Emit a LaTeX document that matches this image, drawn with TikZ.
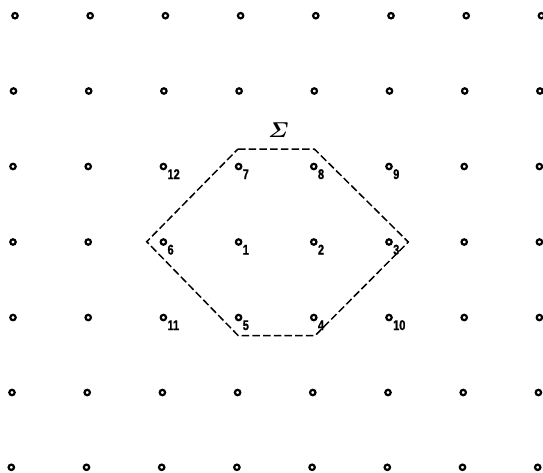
\documentclass[tikz,border=0pt]{standalone}
\usepackage{amsmath}
\usepackage{graphicx}
\usepackage{fontspec}
\newfontfamily\labfont{Liberation Sans}[FakeStretch=0.78,FakeBold=1.2]
\usetikzlibrary{calc}
\begin{document}
\begin{tikzpicture}[x=1pt,y=-1pt,
  dot/.style={circle,draw,line width=2.2pt,minimum size=5.4pt,inner sep=0pt},
  lab/.style={anchor=base west,inner sep=0pt,font=\labfont\bfseries\fontsize{14}{14}\selectfont},
  hexline/.style={line width=1.5pt,dash pattern=on 7.5pt off 3.2pt,line join=miter},
  sigmalab/.style={inner sep=0pt}]
\useasboundingbox (0,0) rectangle (543,472);
\foreach \r/\y/\xo in {1/15.7/15, 2/91/13.5, 3/166.5/13, 4/242/13, 5/317.5/13, 6/392.5/12, 7/467.3/11.3}
  \foreach \c in {0,...,7}
    \node[dot] (c\r\c) at ({\xo+75.2*\c},\y) {};
\foreach \n/\t in {32/12,33/7,34/8,35/9,42/6,43/1,44/2,45/3,52/11,53/5,54/4,55/10}
  \node[lab] (l\t) at ($(c\n)+(4,12.5)$) {\t};
\coordinate (h1) at (238,149);
\coordinate (h2) at (314.3,149);
\coordinate (h3) at (408.3,242);
\coordinate (h4) at (315,335.7);
\coordinate (h5) at (238.3,335.7);
\coordinate (h6) at (146.7,241.7);
\draw[hexline] (h1) -- (h2) -- (h3) -- (h4) -- (h5) -- (h6) -- cycle;
\node[sigmalab] (sigma) at (278.5,130.5) {\scalebox{2.15}{$\boldsymbol{\varSigma}$}};
\end{tikzpicture}
\end{document}
